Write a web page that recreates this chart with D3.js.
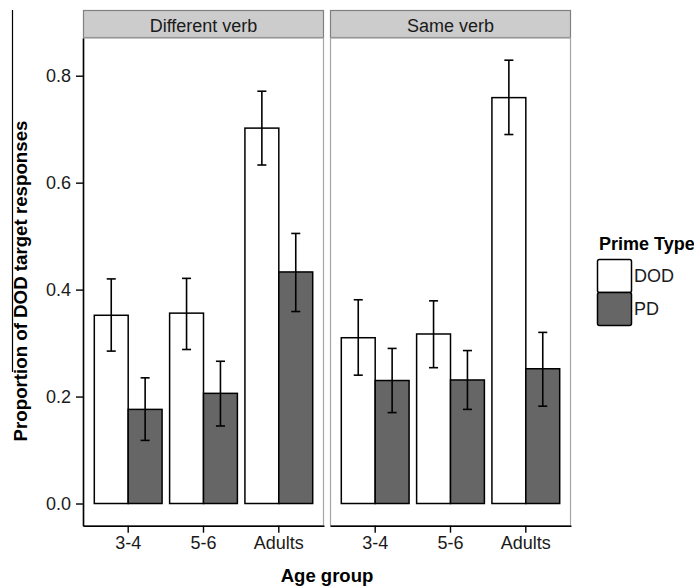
<!DOCTYPE html>
<html>
<head>
<meta charset="utf-8">
<script src="https://cdn.jsdelivr.net/npm/d3@7"></script>
<style>
  html, body { margin: 0; padding: 0; background: #fff; }
  svg { display: block; font-family: "Liberation Sans", Arial, Helvetica, sans-serif; }
</style>
</head>
<body>
<svg id="chart" width="694" height="586"></svg>
<script>
// ---- Data ----
const ageGroups = ["3-4", "5-6", "Adults"];
const verbConditions = ["Different verb", "Same verb"];
const primeTypes = ["DOD", "PD"];
const yTicks = [0.0, 0.2, 0.4, 0.6, 0.8];

const diffDOD      = [0.352, 0.356, 0.702];
const diffDODLow   = [0.285, 0.288, 0.633];
const diffDODHigh  = [0.420, 0.421, 0.771];
const diffPD       = [0.176, 0.206, 0.433];
const diffPDLow    = [0.118, 0.145, 0.359];
const diffPDHigh   = [0.235, 0.266, 0.505];
const sameDOD      = [0.310, 0.317, 0.759];
const sameDODLow   = [0.240, 0.254, 0.690];
const sameDODHigh  = [0.381, 0.379, 0.829];
const samePD       = [0.230, 0.231, 0.252];
const samePDLow    = [0.170, 0.176, 0.182];
const samePDHigh   = [0.290, 0.286, 0.320];

const series = {
  "Different verb": {
    DOD: [diffDOD, diffDODLow, diffDODHigh],
    PD: [diffPD, diffPDLow, diffPDHigh]
  },
  "Same verb": {
    DOD: [sameDOD, sameDODLow, sameDODHigh],
    PD: [samePD, samePDLow, samePDHigh]
  }
};
const rows = [];
verbConditions.forEach(vc => primeTypes.forEach(pt => ageGroups.forEach((ag, i) => {
  const [m, lo, hi] = series[vc][pt];
  rows.push({ verb: vc, prime: pt, age: ag, mean: m[i], lo: lo[i], hi: hi[i] });
})));

// ---- Layout ----
const svg = d3.select("#chart");
const panelTop = 38, panelBottom = 525.7, stripTop = 10;
const fill = { DOD: "#ffffff", PD: "#666666" };
const tickFont = 18;

const facet = d3.scaleBand().domain(verbConditions).range([83, 571])
  .paddingInner(6 / 247).paddingOuter(0);
const y = d3.scaleLinear().domain([-0.0415, 0.8705]).range([panelBottom, panelTop]);

// thin left line seen in the reference
svg.append("line").attr("x1", 12.5).attr("x2", 12.5).attr("y1", 10).attr("y2", 372)
  .attr("stroke", "#000").attr("stroke-width", 1.2);

verbConditions.forEach(vc => {
  const x0 = facet(vc), w = facet.bandwidth();
  const g = svg.append("g");
  // strip
  g.append("rect").attr("x", x0 + 0.5).attr("y", stripTop + 0.5)
    .attr("width", w - 1).attr("height", panelTop - stripTop - 1)
    .attr("fill", "#cccccc").attr("stroke", "#808080").attr("stroke-width", 1.2);
  g.append("text").attr("x", x0 + w / 2).attr("y", 31.5).attr("text-anchor", "middle")
    .attr("font-size", 18).attr("fill", "#1a1a1a").text(vc);
  // panel border
  g.append("rect").attr("x", x0 + 0.5).attr("y", panelTop)
    .attr("width", w - 1).attr("height", panelBottom - panelTop)
    .attr("fill", "none").attr("stroke", "#a6a6a6").attr("stroke-width", 1.2);

  const x = d3.scaleBand().domain(ageGroups).range([x0, x0 + w]).paddingInner(0).paddingOuter(0.1);
  const xi = d3.scaleBand().domain(primeTypes).range([0.05 * x.bandwidth(), 0.95 * x.bandwidth()]);
  const capW = 0.12 * x.bandwidth();
  const data = rows.filter(r => r.verb === vc);

  g.selectAll("rect.bar").data(data).join("rect").attr("class", "bar")
    .attr("x", d => x(d.age) + xi(d.prime))
    .attr("width", xi.bandwidth())
    .attr("y", d => y(d.mean))
    .attr("height", d => y(0) - y(d.mean))
    .attr("fill", d => fill[d.prime]).attr("stroke", "#000").attr("stroke-width", 1.5);

  const eb = g.selectAll("g.err").data(data).join("g").attr("class", "err")
    .attr("stroke", "#000").attr("stroke-width", 1.6);
  const cx = d => x(d.age) + xi(d.prime) + xi.bandwidth() / 2;
  eb.append("line").attr("x1", cx).attr("x2", cx).attr("y1", d => y(d.lo)).attr("y2", d => y(d.hi));
  eb.append("line").attr("x1", d => cx(d) - capW / 2).attr("x2", d => cx(d) + capW / 2)
    .attr("y1", d => y(d.hi)).attr("y2", d => y(d.hi));
  eb.append("line").attr("x1", d => cx(d) - capW / 2).attr("x2", d => cx(d) + capW / 2)
    .attr("y1", d => y(d.lo)).attr("y2", d => y(d.lo));

  // x axis
  const xa = g.append("g").attr("transform", `translate(0,${panelBottom})`)
    .call(d3.axisBottom(x).tickSize(7).tickSizeOuter(0).tickPadding(4));
  xa.select(".domain").attr("stroke", "#000").attr("stroke-width", 1.6);
  xa.selectAll(".tick line").attr("stroke", "#000").attr("stroke-width", 1.4);
  xa.selectAll(".tick text").attr("font-size", tickFont).attr("fill", "#1a1a1a")
    .attr("font-family", "Liberation Sans, Arial, sans-serif");
});

// y axis
const ya = svg.append("g").attr("transform", `translate(83,0)`)
  .call(d3.axisLeft(y).tickValues(yTicks).tickFormat(d3.format(".1f")).tickSize(7).tickSizeOuter(0).tickPadding(5));
ya.select(".domain").attr("stroke", "#000").attr("stroke-width", 1.6);
ya.selectAll(".tick line").attr("stroke", "#000").attr("stroke-width", 1.4);
ya.selectAll(".tick text").attr("font-size", tickFont).attr("fill", "#1a1a1a")
  .attr("font-family", "Liberation Sans, Arial, sans-serif");

// axis titles
svg.append("text").attr("x", 327).attr("y", 581.5).attr("text-anchor", "middle")
  .attr("font-size", 18.5).attr("font-weight", "bold").text("Age group");
svg.append("text").attr("transform", "translate(26.5,281) rotate(-90)").attr("text-anchor", "middle")
  .attr("font-size", 18.7).attr("font-weight", "bold").text("Proportion of DOD target responses");

// legend
const lg = svg.append("g");
lg.append("text").attr("x", 599).attr("y", 250).attr("font-size", 18).attr("font-weight", "bold")
  .text("Prime Type");
primeTypes.forEach((pt, i) => {
  lg.append("rect").attr("x", 597.5).attr("y", 259.5 + i * 33).attr("width", 34).attr("height", 33)
    .attr("fill", fill[pt]).attr("stroke", "#000").attr("stroke-width", 1.5).attr("rx", 2);
  lg.append("text").attr("x", 634).attr("y", 276 + i * 33).attr("dy", "0.35em")
    .attr("font-size", tickFont).attr("fill", "#1a1a1a").text(pt);
});
</script>
</body>
</html>
